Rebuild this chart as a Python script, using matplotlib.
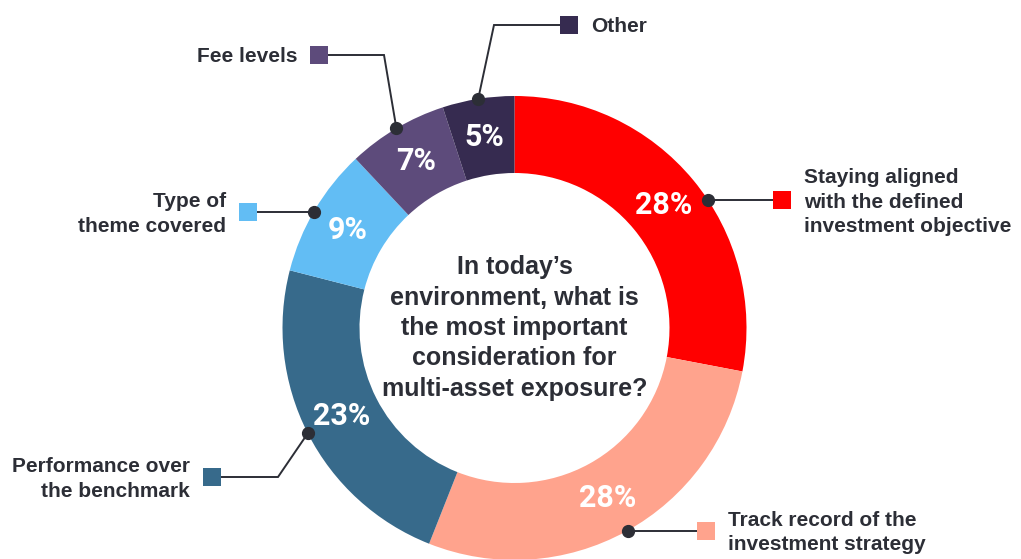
import numpy as np
import matplotlib.pyplot as plt

# Survey answers, clockwise from 12 o'clock
labels = [
    "Staying aligned\nwith the defined\ninvestment objective",
    "Track record of the\ninvestment strategy",
    "Performance over\nthe benchmark",
    "Type of\ntheme covered",
    "Fee levels",
    "Other",
]
shares = [28, 28, 23, 9, 7, 5]
colors = ["#FF0000", "#FFA38D", "#376A8B", "#62BDF4", "#5D4B7B", "#362B50"]
question = "In today\u2019s\nenvironment, what is\nthe most important\nconsideration for\nmulti-asset exposure?"

W, H = 1021, 559
CX, CY = 514.5, H - 328
R_OUT, RING = 232, 77
INK = "#2C2E36"

# legend square centre, elbow of the leader (None = straight), text side
callouts = [
    ((782, 200), None, "right"),
    ((705.5, 530.5), None, "right"),
    ((212, 477), (278, 477), "left"),
    ((248, 212), None, "left"),
    ((319, 55), (384, 55), "left"),
    ((569, 25), (494, 25), "right"),
]

fig = plt.figure(figsize=(W / 100, H / 100), dpi=100)
ax = fig.add_axes([0, 0, 1, 1])
wedges, _ = ax.pie(shares, colors=colors, radius=R_OUT, center=(CX, CY),
                   startangle=90, counterclock=False, frame=True,
                   wedgeprops=dict(width=RING, linewidth=0))
ax.set_xlim(0, W)
ax.set_ylim(0, H)
ax.set_aspect("equal")
ax.set_axis_off()

r_mid = R_OUT - RING / 2
for w, share, label, (sq, elbow, side), col in zip(wedges, shares, labels, callouts, colors):
    theta = np.deg2rad((w.theta1 + w.theta2) / 2)
    ax.text(CX + r_mid * np.cos(theta), CY + r_mid * np.sin(theta), f"{share}%",
            ha="center", va="center", color="white", fontsize=22, fontweight="bold",
            family="Roboto")

    sx, sy = sq[0], H - sq[1]
    if elbow is None:
        # dot sits on the outer edge at the height of the square
        dy = sy - CY
        dx = np.sqrt(R_OUT ** 2 - dy ** 2) * (1 if sx > CX else -1)
        dot = (CX + dx, sy)
        path = [dot, (sx, sy)]
    else:
        dot = (CX + R_OUT * np.cos(theta), CY + R_OUT * np.sin(theta))
        path = [dot, (elbow[0], H - elbow[1]), (sx, sy)]
    xs, ys = zip(*path)
    ax.plot(xs, ys, color=INK, lw=1.4, solid_joinstyle="miter", zorder=3)
    ax.plot(*dot, "o", color=INK, ms=8.5, zorder=4)
    ax.plot(sx, sy, "s", color=col, ms=12.5, mew=0, zorder=4)

    text_kw = dict(va="center", color=INK, fontsize=15, fontweight="bold",
                   family="Liberation Sans", linespacing=1.37)
    if side == "right":
        ax.text(sx + 22, sy - 2, label, ha="left", **text_kw)
    else:
        ax.text(sx - 22, sy - 2, label, ha="right", multialignment="right", **text_kw)

ax.text(CX, CY, question, ha="center", va="center", color=INK, fontsize=18,
        fontweight="bold", family="Liberation Sans", linespacing=1.33)

fig.savefig("out.png", dpi=100)
